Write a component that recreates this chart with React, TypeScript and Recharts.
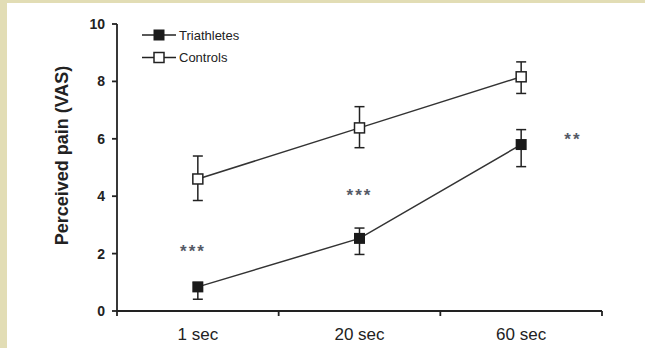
import React from "react";
import {
  ComposedChart,
  Line,
  Scatter,
  XAxis,
  YAxis,
  ErrorBar,
  Legend,
} from "recharts";

const categories = ["1 sec", "20 sec", "60 sec"];
const triathletes = [0.84, 2.53, 5.8];
const triathletesErr = [
  [0.43, 0.15],
  [0.56, 0.36],
  [0.77, 0.52],
];
const controls = [4.6, 6.38, 8.16];
const controlsErr = [
  [0.75, 0.8],
  [0.69, 0.74],
  [0.58, 0.52],
];
const yTicks = [0, 2, 4, 6, 8, 10];
const sigLabels = ["***", "***", "**"];
const sigValues = [2.2, 4.15, 6.1];
const sigX = [0.47, 1.5, 2.82];

const FONT = '"Liberation Sans", Arial, sans-serif';
const INK = "#222";

const rows = categories.map((c, i) => ({
  x: i + 0.5,
  name: c,
  tri: triathletes[i],
  triErr: triathletesErr[i],
  ctrl: controls[i],
  ctrlErr: controlsErr[i],
}));

const sigData = sigLabels.map((s, i) => ({ x: sigX[i], y: sigValues[i], text: s }));

const xTicks = [0, 0.5, 1, 1.5, 2, 2.5, 3];

const SquareDot = (props: any) => {
  const { cx, cy, filled } = props;
  if (cx == null || cy == null) return null;
  return filled ? (
    <rect x={cx - 5.5} y={cy - 5.5} width={11} height={11} fill="#1a1a1a" />
  ) : (
    <rect
      x={cx - 5}
      y={cy - 5}
      width={10}
      height={10}
      fill="#fff"
      stroke={INK}
      strokeWidth={1.5}
    />
  );
};

const XTick = (props: any) => {
  const { x, y, payload } = props;
  const v = payload.value;
  if (Number.isInteger(v)) {
    return <line x1={x} x2={x} y1={y - 5} y2={y} stroke={INK} strokeWidth={1.8} />;
  }
  return (
    <text
      x={x}
      y={y + 24}
      textAnchor="middle"
      fontSize={17}
      fontFamily={FONT}
      fill={INK}
    >
      {categories[Math.floor(v)]}
    </text>
  );
};

const YLabel = (props: any) => {
  const { viewBox } = props;
  const cx = viewBox.x + 62;
  const cy = viewBox.y + viewBox.height / 2 - 12;
  return (
    <text
      x={cx}
      y={cy}
      transform={`rotate(-90, ${cx}, ${cy})`}
      textAnchor="middle"
      dominantBaseline="central"
      fontSize={18}
      fontWeight="bold"
      fontFamily={FONT}
      fill={INK}
    >
      Perceived pain (VAS)
    </text>
  );
};

const SigMark = (props: any) => {
  const { cx, cy, payload } = props;
  return (
    <text
      x={cx}
      y={cy + 4}
      textAnchor="middle"
      dominantBaseline="central"
      fontSize={17}
      fontWeight="bold"
      letterSpacing={2}
      fontFamily={FONT}
      fill="#555a66"
    >
      {payload.text}
    </text>
  );
};

const LegendBox = () => (
  <svg width={150} height={44}>
    {[
      { label: "Triathletes", filled: true, y: 11 },
      { label: "Controls", filled: false, y: 33.5 },
    ].map((it) => (
      <g key={it.label}>
        <line x1={2} x2={36} y1={it.y} y2={it.y} stroke={INK} strokeWidth={1.5} />
        <SquareDot cx={19} cy={it.y} filled={it.filled} />
        <text
          x={39}
          y={it.y}
          dominantBaseline="central"
          fontSize={13}
          fontFamily={FONT}
          fill={INK}
        >
          {it.label}
        </text>
      </g>
    ))}
  </svg>
);

export default function App() {
  return (
    <div
      style={{
        position: "absolute",
        left: 0,
        top: 0,
        width: 645,
        height: 348,
        background: "#e2ddb5",
      }}
    >
      <div
        style={{
          position: "absolute",
          left: 7,
          top: 3,
          width: 638,
          height: 345,
          background: "#fff",
        }}
      />
      <div style={{ position: "absolute", left: 0, top: 0 }}>
        <ComposedChart
          width={645}
          height={348}
          data={rows}
          margin={{ top: 24, right: 43, bottom: 0, left: 0 }}
        >
          <XAxis
            dataKey="x"
            type="number"
            domain={[0, 3]}
            ticks={xTicks}
            interval={0}
            tickLine={false}
            tickSize={5}
            tickMargin={0}
            height={37}
            axisLine={{ stroke: INK, strokeWidth: 1.8 }}
            tick={<XTick />}
          />
          <YAxis
            type="number"
            domain={[0, 10]}
            ticks={yTicks}
            interval={0}
            width={117}
            tickSize={5}
            tickMargin={7}
            axisLine={{ stroke: INK, strokeWidth: 1.8 }}
            tickLine={{ stroke: INK, strokeWidth: 1.8 }}
            tick={{ fontSize: 14, fontWeight: "bold", fill: INK, fontFamily: FONT }}
            label={<YLabel />}
          />
          <Legend
            layout="horizontal"
            verticalAlign="middle"
            align="center"
            wrapperStyle={{ top: 24, left: 140, width: 150, height: 44 }}
            content={<LegendBox />}
          />
          <Line
            dataKey="ctrl"
            stroke="#333"
            strokeWidth={1.5}
            dot={<SquareDot filled={false} />}
            activeDot={false}
            isAnimationActive={false}
          >
            <ErrorBar dataKey="ctrlErr" direction="y" width={5} stroke={INK} strokeWidth={1.5} />
          </Line>
          <Line
            dataKey="tri"
            stroke="#333"
            strokeWidth={1.5}
            dot={<SquareDot filled />}
            activeDot={false}
            isAnimationActive={false}
          >
            <ErrorBar dataKey="triErr" direction="y" width={5} stroke={INK} strokeWidth={1.5} />
          </Line>
          <Scatter data={sigData} dataKey="y" shape={<SigMark />} isAnimationActive={false} />
        </ComposedChart>
      </div>
    </div>
  );
}
